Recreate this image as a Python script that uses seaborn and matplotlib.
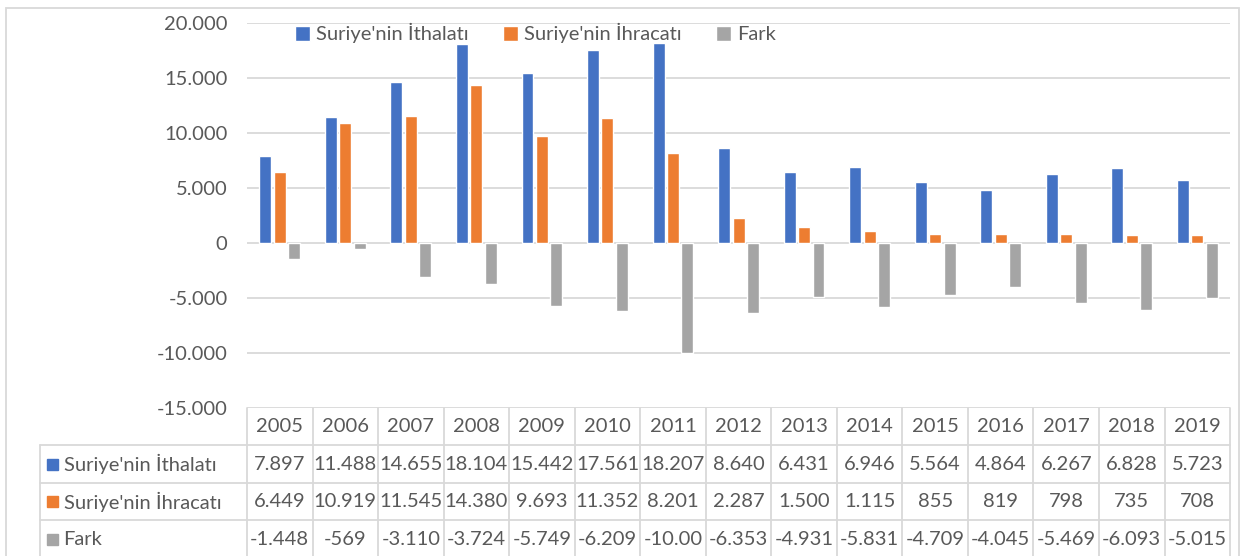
import matplotlib
matplotlib.use("Agg")
import matplotlib.pyplot as plt
import seaborn as sns
import pandas as pd
from matplotlib.ticker import FuncFormatter, MultipleLocator
from matplotlib.lines import Line2D
from matplotlib.patches import Rectangle

years = [str(y) for y in range(2005, 2020)]
ithalat = [7897, 11488, 14655, 18104, 15442, 17561, 18207, 8640, 6431, 6946, 5564, 4864, 6267, 6828, 5723]
ihracat = [6449, 10919, 11545, 14380, 9693, 11352, 8201, 2287, 1500, 1115, 855, 819, 798, 735, 708]
fark = [-1448, -569, -3110, -3724, -5749, -6209, -10006, -6353, -4931, -5831, -4709, -4045, -5469, -6093, -5015]

series = ["Suriye'nin İthalatı", "Suriye'nin İhracatı", "Fark"]
colors = ["#4472C4", "#ED7D31", "#A5A5A5"]

df = pd.DataFrame({
    "year": years * 3,
    "value": ithalat + ihracat + fark,
    "series": [series[0]] * 15 + [series[1]] * 15 + [series[2]] * 15,
})

sns.set_style("white")
plt.rcParams["font.family"] = ["Lato", "DejaVu Sans"]
txt = "#595959"

fig = plt.figure(figsize=(12.45, 5.56), dpi=100)
ax = fig.add_axes([0.1984, 0.2662, 0.7896, 0.6924])

sns.barplot(data=df, x="year", y="value", hue="series", palette=colors,
            width=0.66, gap=0.17, ax=ax, legend=True, saturation=1)

ax.set_ylim(-15000, 20000)
ax.set_xlim(-0.5, 14.5)
ax.yaxis.set_major_locator(MultipleLocator(5000))
ax.yaxis.set_major_formatter(FuncFormatter(lambda v, p: f"{int(v):,}".replace(",", ".")))
ax.grid(axis="y", color="#D9D9D9", linewidth=1.3)
ax.set_axisbelow(True)
for s in ax.spines.values():
    s.set_visible(False)
ax.set_xlabel("")
ax.set_ylabel("")
ax.set_xticks([])
ax.tick_params(axis="y", length=0, labelsize=14.5, labelcolor=txt, pad=14)

# legend
h, l = ax.get_legend_handles_labels()
ax.legend(h, l, loc="center", bbox_to_anchor=(0.43, 0.94), bbox_transform=fig.transFigure,
          ncol=3, frameon=False, fontsize=14.5, handlelength=0.75, handleheight=0.75,
          handletextpad=0.3, columnspacing=1.7, labelcolor=txt)

# data table under the plot
tr = ax.get_xaxis_transform()
row_h = 0.0974
lab_x = -3.66
line_kw = dict(color="#D9D9D9", linewidth=1.3, transform=tr, clip_on=False)
bottom = -0.40
for i in range(16):
    ax.add_line(Line2D([i - 0.5, i - 0.5], [0, bottom], **line_kw))
ax.add_line(Line2D([lab_x, lab_x], [-row_h, bottom], **line_kw))
for r in range(1, 4):
    ax.add_line(Line2D([lab_x, 14.5], [-row_h * r, -row_h * r], **line_kw))

for i, y in enumerate(years):
    ax.text(i, -row_h * 0.5, y, ha="center", va="center", fontsize=14.5, color=txt, transform=tr)

def fmt(v):
    return f"{v:,}".replace(",", ".")[:6]

for r, (name, vals, c) in enumerate(zip(series, [ithalat, ihracat, fark], colors), start=1):
    yc = -row_h * (r + 0.5)
    ax.add_patch(Rectangle((lab_x + 0.11, yc - 0.014), 0.17, 0.028, color=c, transform=tr, clip_on=False))
    ax.text(lab_x + 0.36, yc, name, ha="left", va="center", fontsize=14.5, color=txt, transform=tr)
    for i, v in enumerate(vals):
        ax.text(i, yc, fmt(v), ha="center", va="center", fontsize=14.5, color=txt, transform=tr)

# outer chart border
fig.add_artist(Rectangle((0.005, -0.01), 0.99, 0.995, fill=False, edgecolor="#D9D9D9",
                         linewidth=1.3, transform=fig.transFigure))

fig.savefig("out.png", dpi=100)
